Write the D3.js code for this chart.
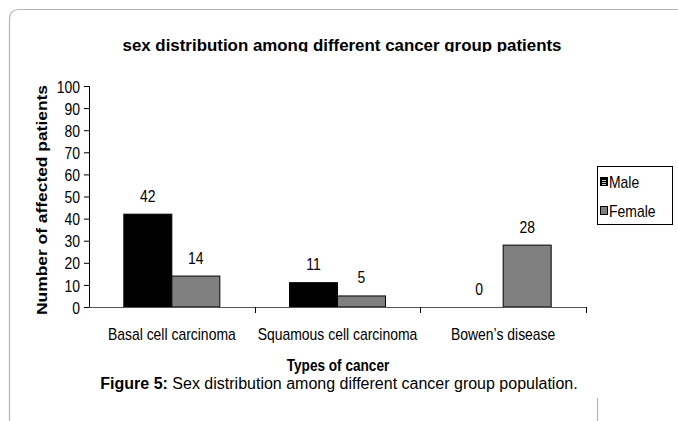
<!DOCTYPE html>
<html><head><meta charset="utf-8">
<script src="https://cdn.jsdelivr.net/npm/d3@7"></script>
<style>
html,body{margin:0;padding:0;background:#fff;}
svg{display:block;}
text{font-family:'Liberation Sans',Arial,sans-serif;fill:#000;}
</style></head>
<body>
<svg id="c" width="678" height="421"></svg>
<script>
const categories = ["Basal cell carcinoma", "Squamous cell carcinoma", "Bowen\u2019s disease"];
const seriesNames = ["Male", "Female"];
const maleValues = [42, 11, 0];
const femaleValues = [14, 5, 28];
const yTicks = [0, 10, 20, 30, 40, 50, 60, 70, 80, 90, 100];
const titleText = "sex distribution among different cancer group patients";
const yLabel = "Number of affected patients";
const xLabel = "Types of cancer";
const captionBold = "Figure 5:";
const captionRest = " Sex distribution among different cancer group population.";

const colors = {Male: "#000000", Female: "#808080"};
const svg = d3.select("#c");
function narrow(f){ return sel => sel.each(function(){ const l=this.getComputedTextLength(); d3.select(this).attr("textLength", l*f).attr("lengthAdjust","spacingAndGlyphs"); }); }

// outer panel border
svg.append("path").attr("d", "M9.5,421 L9.5,19 Q9.5,9.5 19,9.5 L678,9.5")
  .attr("fill","none").attr("stroke","#b5b5b5").attr("stroke-width",1.2);
svg.append("line").attr("x1",597.5).attr("x2",597.5).attr("y1",398).attr("y2",421)
  .attr("stroke","#b5b5b5").attr("stroke-width",1.2);

const x0 = d3.scaleBand().domain(categories).range([89, 586]).padding(0);
const x1 = d3.scaleBand().domain(seriesNames).range([0, x0.bandwidth()]).paddingInner(0).paddingOuter(0.726);
const y = d3.scaleLinear().domain([0, 100]).range([307, 86]);

// title (clipped at bottom as in reference)
svg.append("clipPath").attr("id","tclip").append("rect").attr("x",0).attr("y",20).attr("width",678).attr("height",32);
svg.append("text").attr("clip-path","url(#tclip)")
  .attr("x", 342).attr("y", 51).attr("text-anchor","middle")
  .attr("font-size",17).attr("font-weight","bold").text(titleText)
  .attr("textLength", 439).attr("lengthAdjust","spacingAndGlyphs");

// bars
const data = categories.map((c,i)=>({cat:c, vals:[{s:"Male",v:maleValues[i]},{s:"Female",v:femaleValues[i]}]}));
const g = svg.append("g");
const grp = g.selectAll("g.cat").data(data).join("g").attr("transform", d=>`translate(${x0(d.cat)},0)`);
grp.selectAll("rect").data(d=>d.vals).join("rect")
  .attr("x", d=>x1(d.s)).attr("width", x1.bandwidth())
  .attr("y", d=>y(d.v)).attr("height", d=>y(0)-y(d.v))
  .attr("fill", d=>colors[d.s]).attr("stroke","#000").attr("stroke-width",1)
  .attr("display", d=>d.v===0?"none":null);
grp.selectAll("text.val").data(d=>d.vals).join("text").attr("class","val")
  .attr("x", d=>x1(d.s)+x1.bandwidth()/2).attr("y", d=>y(d.v)-12.5)
  .attr("text-anchor","middle").attr("font-size",17).text(d=>d.v).call(narrow(0.82));

// y axis
const yAxis = svg.append("g").attr("transform","translate(89,0)")
  .call(d3.axisLeft(y).tickValues(yTicks).tickSize(5).tickPadding(4));
yAxis.select(".domain").attr("stroke","#000");
yAxis.selectAll(".tick line").attr("stroke","#000");
yAxis.selectAll("text").attr("font-size",17).attr("font-family","'Liberation Sans',Arial,sans-serif").attr("fill","#000").attr("dy","0.36em").call(narrow(0.82));

// x axis
const xAxis = svg.append("g").attr("transform","translate(0,307)");
xAxis.append("line").attr("x1",89).attr("x2",586).attr("y1",0.5).attr("y2",0.5).attr("stroke","#555");
const bounds = categories.map(c=>x0(c)+x0.bandwidth());
xAxis.selectAll("line.tk").data(bounds).join("line").attr("class","tk")
  .attr("x1",d=>Math.round(d)+0.5).attr("x2",d=>Math.round(d)+0.5).attr("y1",0).attr("y2",6).attr("stroke","#000");
xAxis.selectAll("text.cl").data(categories).join("text").attr("class","cl")
  .attr("x", d=>x0(d)+x0.bandwidth()/2).attr("y", 33).attr("text-anchor","middle")
  .attr("font-size",17).text(d=>d).call(narrow(0.82));

// axis titles
svg.append("text").attr("transform","translate(47,200) rotate(-90)").attr("text-anchor","middle")
  .attr("font-size",14).attr("font-weight","bold").text(yLabel)
  .attr("textLength",230).attr("lengthAdjust","spacingAndGlyphs");
svg.append("text").attr("x",338).attr("y",371).attr("text-anchor","middle")
  .attr("font-size",16).attr("font-weight","bold").text(xLabel).call(narrow(0.85));

// legend
const lg = svg.append("g");
lg.append("rect").attr("x",597.5).attr("y",166.5).attr("width",75).attr("height",58).attr("fill","#fff").attr("stroke","#000");
const items = lg.selectAll("g.it").data(seriesNames).join("g").attr("class","it")
  .attr("transform",(d,i)=>`translate(600,${182+i*29})`);
items.append("rect").attr("x",0.5).attr("y",-4.5).attr("width",7).attr("height",8)
  .attr("fill",d=>colors[d]).attr("stroke","#000");
items.filter(d=>d==="Male").selectAll("line.st").data([-2,0,2]).join("line").attr("class","st")
  .attr("x1",2).attr("x2",6).attr("y1",d=>d+0.5).attr("y2",d=>d+0.5).attr("stroke","#fff").attr("stroke-width",0.8);
items.append("text").attr("x",9).attr("y",6).attr("font-size",17).text(d=>d).call(narrow(0.82));

// caption
const cap = svg.append("text").attr("x",339).attr("y",389).attr("text-anchor","middle").attr("font-size",16);
cap.append("tspan").attr("font-weight","bold").text(captionBold);
cap.append("tspan").text(captionRest);
</script>
</body></html>
